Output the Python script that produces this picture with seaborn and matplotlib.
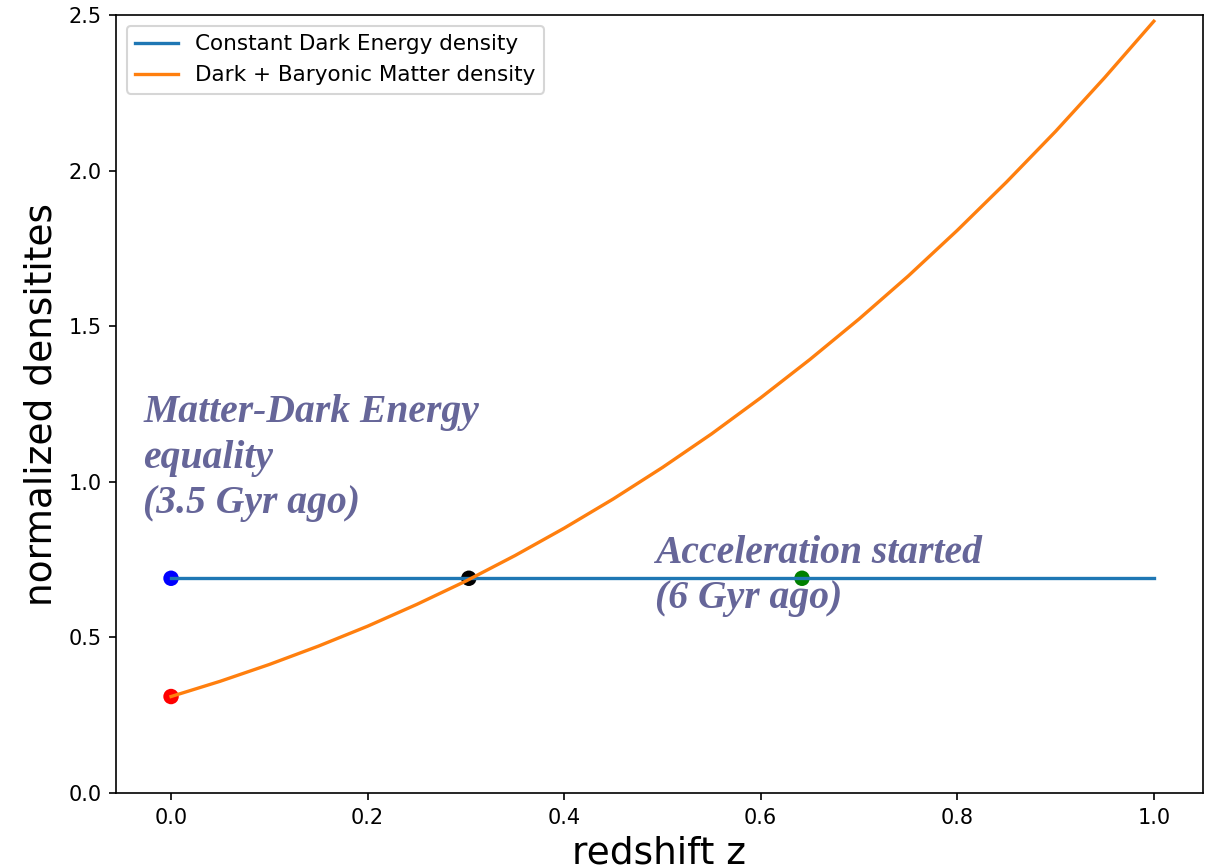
import matplotlib
matplotlib.use("Agg")
import matplotlib.pyplot as plt
import seaborn as sns
import pandas as pd

# Data
de_label = "Constant Dark Energy density"
m_label = "Dark + Baryonic Matter density"

de_z = [0.0, 1.0]
de_rho = [0.69, 0.69]

m_z = [0.00, 0.05, 0.10, 0.15, 0.20, 0.25, 0.30, 0.35, 0.40, 0.45, 0.50,
       0.55, 0.60, 0.65, 0.70, 0.75, 0.80, 0.85, 0.90, 0.95, 1.00]
m_rho = [0.31, 0.359, 0.413, 0.472, 0.536, 0.606, 0.681, 0.763, 0.851, 0.945, 1.046,
         1.154, 1.270, 1.393, 1.523, 1.661, 1.808, 1.963, 2.126, 2.299, 2.480]

pt_z = [0.0, 0.0, 0.303, 0.642]
pt_rho = [0.69, 0.31, 0.69, 0.69]
pt_name = ["de_now", "m_now", "equality", "accel"]
pt_colors = ["blue", "red", "black", "green"]

ann1 = "Matter-Dark Energy\nequality\n(3.5 Gyr ago)"
ann1_pos = (-0.0285, 0.90)
ann2 = "Acceleration started\n(6 Gyr ago)"
ann2_pos = (0.492, 0.594)

xlabel = "redshift z"
ylabel = "normalized densitites"

lines = pd.DataFrame({
    "z": de_z + m_z,
    "rho": de_rho + m_rho,
    "series": [de_label] * len(de_z) + [m_label] * len(m_z),
})
pts = pd.DataFrame({"z": pt_z, "rho": pt_rho, "name": pt_name})

fig = plt.figure(figsize=(1207 / 150, 868 / 150), dpi=150)
ax = fig.add_axes([116 / 1207, 1 - 793 / 868, (1203 - 116) / 1207, (793 - 15) / 868])

sns.scatterplot(data=pts, x="z", y="rho", hue="name", hue_order=pt_name,
                palette=pt_colors, s=55, edgecolor="none", legend=False, ax=ax, zorder=1)
sns.lineplot(data=lines, x="z", y="rho", hue="series", hue_order=[de_label, m_label],
             palette=["#1f77b4", "#ff7f0e"], linewidth=1.6, ax=ax, zorder=2,
             errorbar=None)

ax.set_ylim(0, 2.5)
ax.set_xlim(-0.056, 1.05)
ax.set_xlabel(xlabel, fontsize=18)
ax.set_ylabel(ylabel, fontsize=18)

handles, labels = ax.get_legend_handles_labels()
ax.legend(handles, labels, loc="upper left", fontsize=10.3)

txt_kw = dict(fontsize=19, color="#666699", fontweight="bold", fontstyle="italic",
              linespacing=1.3, family=["Liberation Serif", "DejaVu Serif"])
ax.text(ann1_pos[0], ann1_pos[1], ann1, **txt_kw)
ax.text(ann2_pos[0], ann2_pos[1], ann2, **txt_kw)

fig.savefig("out.png", dpi=150)
